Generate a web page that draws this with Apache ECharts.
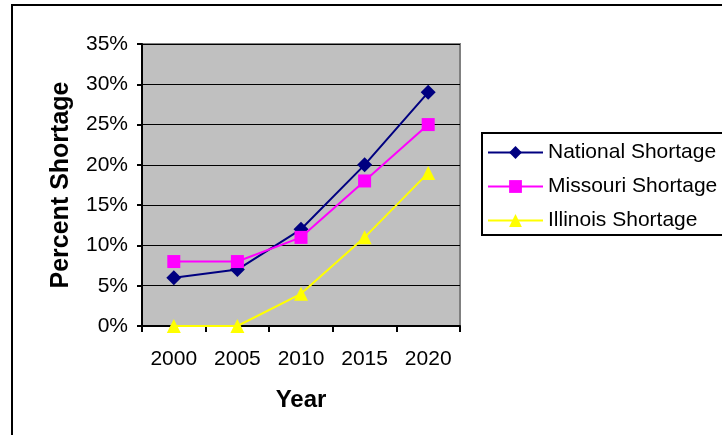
<!DOCTYPE html>
<html>
<head>
<meta charset="utf-8">
<script src="https://cdn.jsdelivr.net/npm/echarts@6/dist/echarts.min.js"></script>
<style>
  html, body { margin: 0; padding: 0; background: #fff; }
  #chart { width: 722px; height: 435px; }
</style>
</head>
<body>
<div id="chart"></div>
<script>
// Projected nursing shortage, percent, by year
const years = ['2000', '2005', '2010', '2015', '2020'];
const nationalShortage = [6, 7, 12, 20, 29];
const missouriShortage = [8, 8, 11, 18, 25];
const illinoisShortage = [0, 0, 4, 11, 19];

const FONT = '"Liberation Sans", Arial, sans-serif';

const chart = echarts.init(document.getElementById('chart'), null, { renderer: 'canvas' });

chart.setOption({
  animation: false,
  backgroundColor: '#ffffff',
  textStyle: { fontFamily: FONT, color: '#000' },
  graphic: [{
    type: 'rect',
    silent: true,
    z: -10,
    shape: { x: 12, y: 5, width: 800, height: 500 },
    style: { fill: 'none', stroke: '#000', lineWidth: 2 }
  }],
  grid: {
    left: 142, top: 44, right: 262, bottom: 109,
    show: true,
    backgroundColor: '#C0C0C0',
    borderColor: '#808080',
    borderWidth: 2
  },
  legend: {
    orient: 'vertical',
    left: 482, top: 133,
    padding: [9, 40, 4, 5],
    borderColor: '#000',
    borderWidth: 2,
    backgroundColor: '#fff',
    itemWidth: 55,
    itemHeight: 16,
    itemGap: 13,
    textStyle: { fontFamily: FONT, fontSize: 21, lineHeight: 21, color: '#000' },
    data: ['National Shortage', 'Missouri Shortage', 'Illinois Shortage']
  },
  xAxis: {
    type: 'category',
    data: years,
    boundaryGap: true,
    name: 'Year',
    nameLocation: 'middle',
    nameGap: 62,
    nameTextStyle: { fontFamily: FONT, fontSize: 24, fontWeight: 'bold', color: '#000' },
    axisLine: { lineStyle: { color: '#000', width: 2 } },
    axisTick: { show: true, length: 6, lineStyle: { color: '#000', width: 2 } },
    axisLabel: { fontFamily: FONT, fontSize: 21, color: '#000', margin: 23 },
    splitLine: { show: false }
  },
  yAxis: {
    type: 'value',
    min: 0, max: 35, interval: 5,
    name: 'Percent Shortage',
    nameLocation: 'middle',
    nameGap: 68,
    nameTextStyle: { fontFamily: FONT, fontSize: 25, fontWeight: 'bold', color: '#000' },
    axisLine: { show: true, lineStyle: { color: '#000', width: 2 } },
    axisTick: { show: true, length: 5, lineStyle: { color: '#000', width: 2 } },
    axisLabel: { fontFamily: FONT, fontSize: 21, color: '#000', margin: 14, formatter: '{value}%' },
    splitLine: { show: true, lineStyle: { color: '#000', width: 1 } }
  },
  series: [
    {
      name: 'National Shortage',
      type: 'line',
      data: nationalShortage,
      symbol: 'diamond',
      symbolSize: 15,
      lineStyle: { color: '#000080', width: 2 },
      itemStyle: { color: '#000080' },
      z: 3
    },
    {
      name: 'Missouri Shortage',
      type: 'line',
      data: missouriShortage,
      symbol: 'rect',
      symbolSize: 13,
      lineStyle: { color: '#FF00FF', width: 2 },
      itemStyle: { color: '#FF00FF' },
      z: 4
    },
    {
      name: 'Illinois Shortage',
      type: 'line',
      data: illinoisShortage,
      symbol: 'triangle',
      symbolSize: 14,
      lineStyle: { color: '#FFFF00', width: 2 },
      itemStyle: { color: '#FFFF00' },
      z: 2
    }
  ]
});
</script>
</body>
</html>
